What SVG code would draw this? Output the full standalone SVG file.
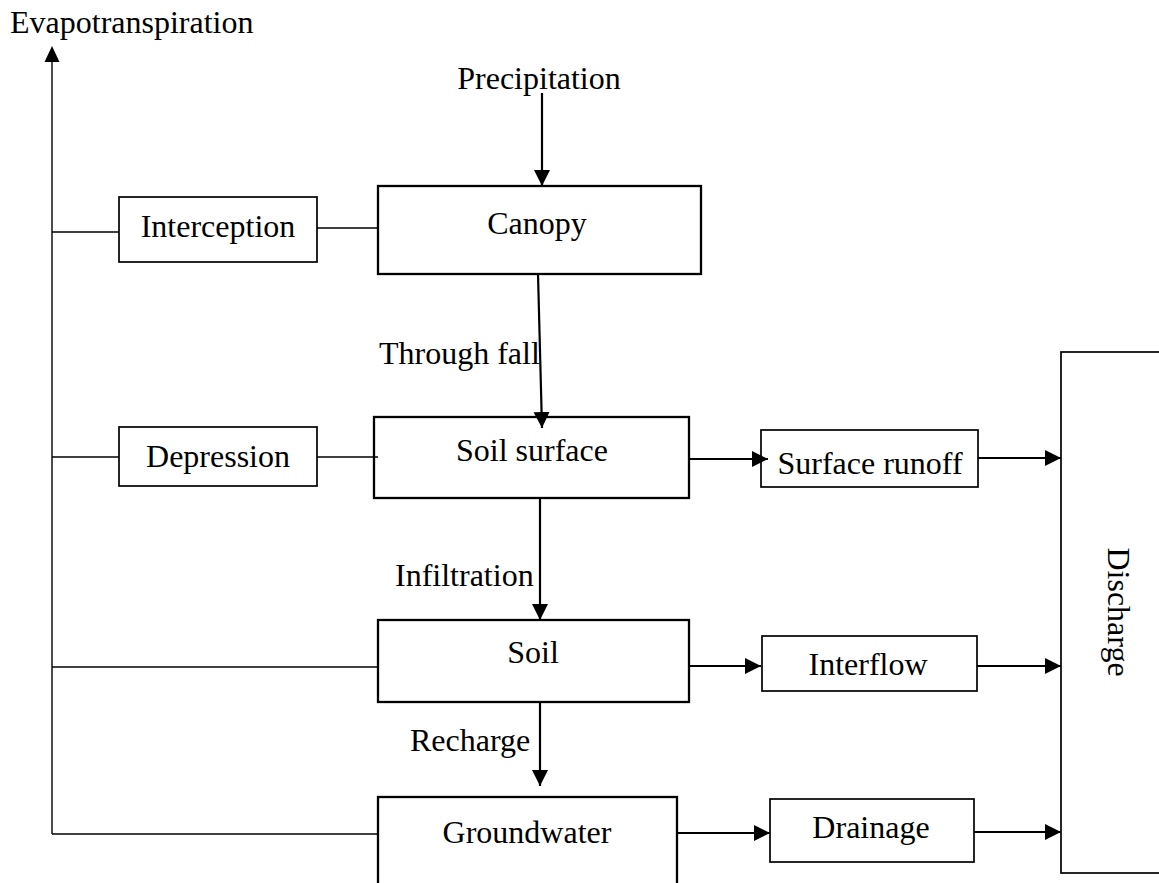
<svg xmlns="http://www.w3.org/2000/svg" width="1159" height="883" viewBox="0 0 1159 883">
<style>
text{font-family:"Liberation Serif","Times New Roman",serif;font-size:32px;fill:#000}
.box{fill:#fff;stroke:#000;stroke-width:2.3}
.sbox{fill:#fff;stroke:#000;stroke-width:1.7}
.thin{stroke:#000;stroke-width:1.4;fill:none}
.arr{stroke:#000;stroke-width:2.2;fill:none;marker-end:url(#ah)}
.mid{text-anchor:middle}
</style>
<defs>
<marker id="ah" markerUnits="userSpaceOnUse" markerWidth="18" markerHeight="18" refX="16" refY="8" orient="auto">
<path d="M0,0 L16,8 L0,16 z" fill="#000"/>
</marker>
</defs>
<g id="evapotranspiration"><text x="10" y="33">Evapotranspiration</text></g>
<g id="precipitation"><text class="mid" x="539" y="89">Precipitation</text></g>
<g id="interception"><rect class="sbox" x="119" y="197" width="198" height="65"/><text class="mid" x="218" y="237">Interception</text></g>
<g id="canopy"><rect class="box" x="378" y="186" width="323" height="88"/><text class="mid" x="537" y="234">Canopy</text></g>
<g id="throughfall-label"><text x="379" y="364">Through fall</text></g>
<g id="depression"><rect class="sbox" x="119" y="427" width="198" height="59"/><text class="mid" x="218" y="467">Depression</text></g>
<g id="soil-surface"><rect class="box" x="374" y="417" width="315" height="81"/><text class="mid" x="532" y="461">Soil surface</text></g>
<g id="surface-runoff"><rect class="sbox" x="761" y="430" width="217" height="57"/><text class="mid" x="870" y="474">Surface runoff</text></g>
<g id="infiltration-label"><text x="395" y="586">Infiltration</text></g>
<g id="soil"><rect class="box" x="378" y="620" width="311" height="82"/><text class="mid" x="533" y="663">Soil</text></g>
<g id="interflow"><rect class="sbox" x="762" y="636" width="215" height="55"/><text class="mid" x="868" y="675">Interflow</text></g>
<g id="recharge-label"><text x="410" y="751">Recharge</text></g>
<g id="groundwater"><rect class="box" x="378" y="797" width="299" height="100"/><text class="mid" x="527" y="843">Groundwater</text></g>
<g id="drainage"><rect class="sbox" x="770" y="799" width="204" height="63"/><text class="mid" x="871" y="838">Drainage</text></g>
<g id="discharge"><rect class="sbox" x="1061" y="352" width="110" height="521"/><text class="mid" transform="translate(1108,612) rotate(90)">Discharge</text></g>
<g id="connectors">
<line class="thin" x1="52" y1="834" x2="52" y2="62"/>
<path d="M44.5,62 L52,46 L59.5,62 z" fill="#000"/>
<line class="thin" x1="52" y1="232" x2="119" y2="232"/>
<line class="thin" x1="317" y1="228" x2="378" y2="228"/>
<line class="thin" x1="52" y1="457" x2="119" y2="457"/>
<line class="thin" x1="317" y1="457" x2="378" y2="457"/>
<line class="thin" x1="52" y1="667" x2="378" y2="667"/>
<line class="thin" x1="52" y1="834" x2="378" y2="834"/>
<line class="arr" x1="542" y1="93" x2="542" y2="186"/>
<line class="arr" x1="538" y1="274" x2="542" y2="428"/>
<line class="arr" x1="540" y1="498" x2="540" y2="620"/>
<line class="arr" x1="540" y1="702" x2="540" y2="786"/>
<line class="arr" x1="689" y1="459" x2="768" y2="459"/>
<line class="arr" x1="978" y1="458" x2="1061" y2="458"/>
<line class="arr" x1="689" y1="666" x2="761" y2="666"/>
<line class="arr" x1="977" y1="666" x2="1061" y2="666"/>
<line class="arr" x1="677" y1="833" x2="770" y2="833"/>
<line class="arr" x1="974" y1="832" x2="1061" y2="832"/>
</g>
</svg>
